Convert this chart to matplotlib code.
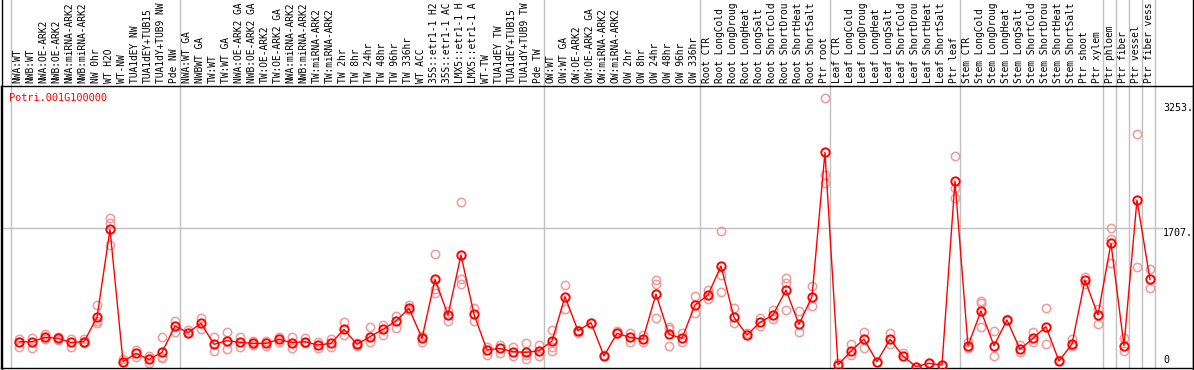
import matplotlib
matplotlib.use('Agg')
import matplotlib.pyplot as plt
from matplotlib.transforms import blended_transform_factory

# sample names, one per column (as far as they fit above the plot)
labels = [
    'NWA:WT', 'NWB:WT', 'NWA:OE-ARK2', 'NWB:OE-ARK2', 'NWA:miRNA-ARK2',
    'NWB:miRNA-ARK2', 'NW 0hr', 'WT H2O', 'WT-NW', 'TUA1dEY NW',
    'TUA1dEY+TUB15', 'TUA1dY+TUB9 NW', 'Pde NW',
    'NWA:WT GA', 'NWBWT GA', 'TW:WT', 'TW:WT GA', 'NWA:OE-ARK2 GA',
    'NWB:OE-ARK2 GA', 'TW:OE-ARK2', 'TW:OE-ARK2 GA', 'NWA:miRNA-ARK2',
    'NWB:miRNA-ARK2', 'TW:miRNA-ARK2', 'TW:miRNA-ARK2', 'TW 2hr', 'TW 8hr',
    'TW 24hr', 'TW 48hr', 'TW 96hr', 'TW 336hr', 'WT ACC', '35S::etr1-1 H2',
    '35S::etr1-1 AC', 'LMX5::etr1-1 H', 'LMX5::etr1-1 A', 'WT-TW',
    'TUA1dEY TW', 'TUA1dEY+TUB15', 'TUA1dY+TUB9 TW', 'Pde TW',
    'OW:WT', 'OW:WT GA', 'OW:OE-ARK2', 'OW:OE-ARK2 GA', 'OW:miRNA-ARK2',
    'OW:miRNA-ARK2', 'OW 2hr', 'OW 8hr', 'OW 24hr', 'OW 48hr', 'OW 96hr',
    'OW 336hr',
    'Root CTR', 'Root LongCold', 'Root LongDroug', 'Root LongHeat',
    'Root LongSalt', 'Root ShortCold', 'Root ShortDrou', 'Root ShortHeat',
    'Root ShortSalt', 'Ptr root',
    'Leaf CTR', 'Leaf LongCold', 'Leaf LongDroug', 'Leaf LongHeat',
    'Leaf LongSalt', 'Leaf ShortCold', 'Leaf ShortDrou', 'Leaf ShortHeat',
    'Leaf ShortSalt', 'Ptr leaf',
    'Stem CTR', 'Stem LongCold', 'Stem LongDroug', 'Stem LongHeat',
    'Stem LongSalt', 'Stem ShortCold', 'Stem ShortDrou', 'Stem ShortHeat',
    'Stem ShortSalt', 'Ptr shoot', 'Ptr xylem',
    'Ptr phloem', 'Ptr fiber', 'Ptr vessel', 'Ptr fiber vess',
]

# first column of every experiment block (gray separators)
group_starts = [0, 13, 41, 53, 63, 73, 84, 85, 86, 87, 88]

# mean expression per sample
means = [
    308, 308, 362, 350, 300, 308, 609, 1694, 62, 164, 90, 177, 502,
    419, 535, 276, 321, 300, 288, 288, 337, 296, 308, 267, 288, 461, 276,
    370, 461, 563, 720, 350, 1077, 637, 1378, 646, 206, 226, 185, 177, 197,
    317, 864, 444, 543, 132, 411, 362, 341, 896, 399, 350, 761,
    884, 1242, 609, 391, 547, 637, 946, 522, 864, 2644,
    21, 193, 341, 62, 337, 132, 0, 41, 21, 2290,
    259, 687, 259, 576, 214, 350, 493, 70, 280, 1069, 637,
    1521, 259, 2056, 1077,
]

# individual replicates per sample
reps = [
    [337, 308, 247], [350, 226], [403, 337], [370, 329], [337, 247],
    [337, 300, 288], [761, 567, 543], [1830, 1776, 1501], [90, 62],
    [206, 123], [132, 49], [362, 123, 103], [563, 424],
    [452, 411], [596, 465], [362, 193], [424, 214], [362, 238], [321, 267],
    [321, 255], [370, 300], [362, 226], [350, 288], [300, 226], [337, 238],
    [547, 391], [288, 255], [493, 300], [514, 391], [625, 481], [761, 699],
    [378, 300], [1386, 954, 905], [691, 567], [2027, 1077, 1016],
    [720, 567], [247, 144], [267, 164], [247, 132], [288, 144, 90],
    [267, 132],
    [452, 247, 193], [1007, 711], [452, 419], [543], [144], [444, 411],
    [419, 308], [391, 308], [1069, 1016, 604], [493, 461, 259], [419, 300],
    [872, 658],
    [946, 831], [1674, 1131, 917], [720, 535], [411], [596, 502],
    [699, 584], [1090, 1036, 699], [687, 432], [995, 748],
    [3310, 2364, 2262],
    [41], [280, 144], [424, 234], [62], [419, 280], [164], [0], [49], [21],
    [2599, 2200, 2077],
    [308, 226], [814, 781, 493], [440, 132], [584], [267, 185], [424, 308],
    [720, 276], [82], [337, 255], [1110, 1016], [707, 522],
    [1706, 1575, 1283], [350, 197], [2866, 1225], [1201, 966],
]

gene = 'Potri.001G100000'
ytick_vals = [0, 1707, 3253]

W, H = 1194, 370
fig = plt.figure(figsize=(W / 100, H / 100), dpi=100)
ax = fig.add_axes([1 / W, 2 / H, 1192 / W, 282 / H])
mono = 'DejaVu Sans Mono'
fs = 6.9

x = list(range(len(labels)))
ax.set_xlim(-1.385, 90.31)
ax.set_ylim(-16, 3462)
ax.set_xticks([])
ax.set_yticks([])
for s in ax.spines.values():
    s.set_color('black')
    s.set_linewidth(1)

# group separators run up through the label area
for g in group_starts:
    ax.axvline(g - 0.615, ymin=0, ymax=368 / 282, color='#c0c0c0', lw=1,
               clip_on=False, zorder=1)

# mid grid line
ax.plot([-1.385, 87.9], [ytick_vals[1], ytick_vals[1]], color='#c0c0c0', lw=1, zorder=1)

# replicates
rx, ry = [], []
for i, r in enumerate(reps):
    rx += [i] * len(r)
    ry += r
ax.plot(rx, ry, 'o', ms=6, mfc='none', mec='#f09a9a', mew=1.1, zorder=2)

# means
ax.plot(x, means, '-', color='red', lw=1, zorder=3)
ax.plot(x, means, 'o', ms=6, mfc='none', mec='red', mew=1.4, zorder=4)

ax.text(-0.77, 3320, gene, color='red', fontfamily=mono,
        fontsize=7.4, va='center', ha='left')

# right-hand value labels
ax.text(88.0, ytick_vals[2], f'{ytick_vals[2]}.', fontfamily=mono, fontsize=7.2,
        va='top', ha='left')
ax.text(88.0, ytick_vals[1], f'{ytick_vals[1]}.', fontfamily=mono, fontsize=7.2,
        va='top', ha='left')
ax.text(88.0, ytick_vals[0] + 20, f'{ytick_vals[0]}', fontfamily=mono,
        fontsize=7.2, va='bottom', ha='left')

# rotated sample names above the plot
trans = blended_transform_factory(ax.transData, fig.transFigure)
for i, lab in enumerate(labels):
    fig.text(i - 0.1, (H - 83) / H, lab, transform=trans, rotation=90,
             ha='center', va='bottom', fontfamily=mono, fontsize=fs)

# frame around the label area
fig.add_artist(plt.Line2D([1.5 / W, 1.5 / W], [0, 1], color='black', lw=1))
fig.add_artist(plt.Line2D([1192.5 / W, 1192.5 / W], [0, 1], color='black', lw=1))

fig.savefig('out.png', dpi=100)
